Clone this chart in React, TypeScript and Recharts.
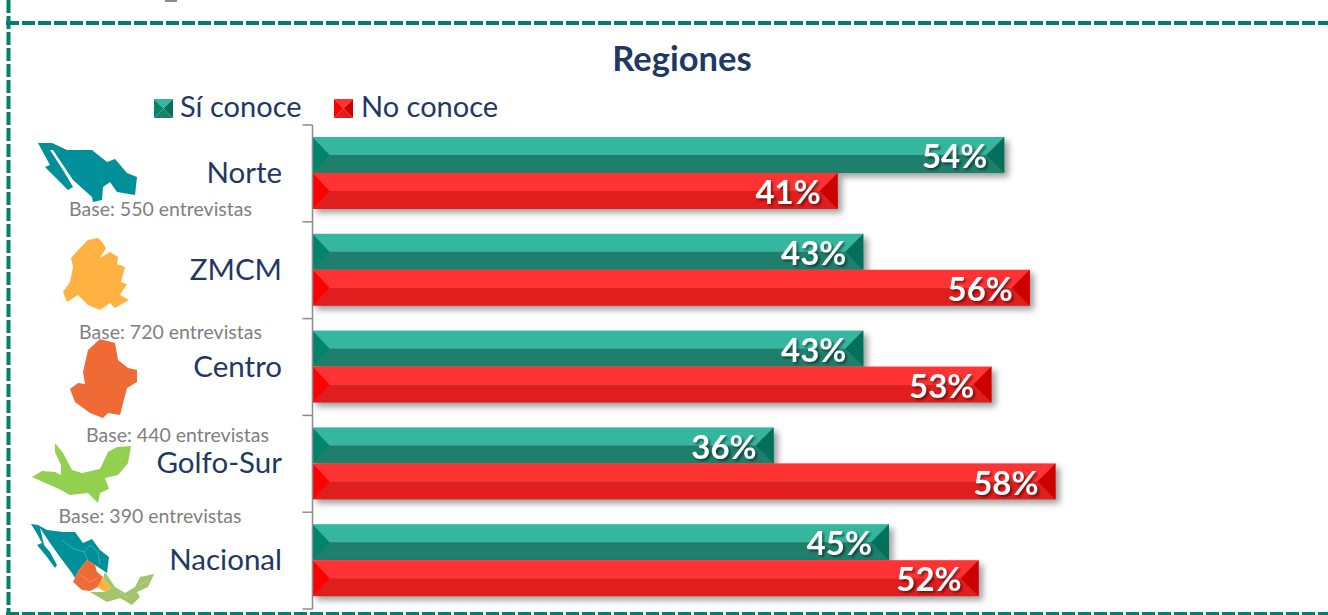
import React from "react";
import { Bar, BarChart, LabelList, Legend, XAxis, YAxis } from "recharts";

const regions = ["Norte", "ZMCM", "Centro", "Golfo-Sur", "Nacional"];
const siConoce = [54, 43, 43, 36, 45];
const noConoce = [41, 56, 53, 58, 52];
const bases = ["Base: 550 entrevistas", "Base: 720 entrevistas", "Base: 440 entrevistas", "Base: 390 entrevistas"];

const chartData = regions.map((region, i) => ({ region, si: siConoce[i], no: noConoce[i] }));

const FONT = "Lato, 'Open Sans', sans-serif";
const NAVY = "#1F3864";
const BAND = 96.8;

const teal = { light: "#35B79F", dark: "#1F7F6D", left: "#00856C", right: "#04705C" };
const red = { light: "#FF3333", dark: "#E01E1E", left: "#FF0000", right: "#CC0000" };

const BevelBar = ({ x, y, width, height, colors }: any) => {
  const mid = y + height / 2;
  const right = x + width;
  return (
    <g style={{ filter: "drop-shadow(4px 4px 3px rgba(0,0,0,0.38))" }}>
      <rect x={x} y={y} width={width} height={height / 2} fill={colors.light} />
      <rect x={x} y={mid} width={width} height={height / 2} fill={colors.dark} />
      <polygon points={`${x},${y} ${x + 17},${mid} ${x},${y + height}`} fill={colors.left} />
      <polygon points={`${right},${y} ${right - 18},${mid} ${right},${y + height}`} fill={colors.right} />
    </g>
  );
};

const RegionTick = ({ x, y, payload, index }: any) => (
  <g>
    <line x1={x - 2} x2={x + 8} y1={y - BAND / 2} y2={y - BAND / 2} stroke="#8C8C8C" strokeWidth={1.5} />
    {index === regions.length - 1 && (
      <line x1={x - 2} x2={x + 8} y1={y + BAND / 2} y2={y + BAND / 2} stroke="#8C8C8C" strokeWidth={1.5} />
    )}
    <text x={x - 22.5} y={y} dy={9.5} textAnchor="end" fontFamily={FONT} fontSize={29.5} fill={NAVY}>
      {payload.value}
    </text>
  </g>
);

const LegendSwatch = ({ colors }: any) => (
  <svg width={19} height={19} style={{ display: "block" }}>
    <polygon points="0,0 19,0 9.5,9.5" fill={colors.light} />
    <polygon points="0,19 19,19 9.5,9.5" fill={colors.dark} />
    <polygon points="0,0 9.5,9.5 0,19" fill={colors.left} />
    <polygon points="19,0 9.5,9.5 19,19" fill={colors.right} />
  </svg>
);

const LegendRow = () => (
  <div style={{ position: "relative", height: 36, fontFamily: FONT, fontSize: 29, color: NAVY, lineHeight: "36px" }}>
    <div style={{ position: "absolute", left: 154, top: 11 }}><LegendSwatch colors={teal} /></div>
    <span style={{ position: "absolute", left: 180, top: 0 }}>Sí conoce</span>
    <div style={{ position: "absolute", left: 334, top: 11 }}><LegendSwatch colors={red} /></div>
    <span style={{ position: "absolute", left: 361, top: 0 }}>No conoce</span>
  </div>
);

// region silhouettes, just decoration next to the axis
const MAPS = [
  { fill: "#00909A", points: "38,143 50,165 45,167 58,180 68,190 73,187 63,170 50,150 53,150 73,180 92,197 93,202 102,200 103,187 110,182 117,192 135,195 137,177 127,173 115,159 107,162 92,150 67,150 52,143" },
  { fill: "#FFB142", points: "98,238 102,242 106,248 100,258 110,252 118,257 117,264 125,267 121,282 127,284 120,295 129,300 115,308 110,303 100,310 88,305 78,295 67,302 63,292 70,282 73,267 71,258 80,248 88,240" },
  { fill: "#F06A35", points: "100,339 115,343 118,360 128,368 137,370 137,382 127,388 120,415 108,413 103,418 90,413 75,402 70,389 78,383 85,384 83,372 88,350" },
  { fill: "#92D050", points: "55,443 63,453 72,470 82,473 100,469 108,452 117,447 131,446 128,463 118,475 105,478 109,489 100,493 98,503 88,493 70,495 57,488 43,482 32,477 42,471 55,472 61,475 61,465 55,452" },
  { fill: "#00909A", points: "31,524 38,525 47,530 63,532 75,532 83,543 92,539 100,550 109,557 107,573 95,565 87,560 79,570 75,578 72,573 60,557 50,543 40,528 44,545 50,552 57,565 55,568 47,557 37,545 42,543 36,532" },
  { fill: "#A2C46A", points: "105,572 115,587 125,593 135,587 140,577 154,574 148,587 137,592 140,597 132,605 120,598 107,602 90,592 105,592 111,588 103,578" },
  { fill: "#F06A35", points: "87,560 95,565 97,572 103,577 98,587 90,591 82,590 73,582 79,570" },
  { fill: "#FFB142", points: "103,578 111,588 105,592 97,587" },
];
const STATE_LINES = ["62,540 72,548 84,552", "84,552 90,545 98,552", "84,552 88,560", "98,552 100,565", "80,575 90,582 98,578", "120,592 128,598", "140,585 148,580"];
const BASE_X = [160.5, 170.5, 177.5, 150];
const BASE_Y = [216, 339, 442, 523];

const labelStyle = { fill: "#fff", fontFamily: FONT, fontWeight: 700, fontSize: 33, filter: "drop-shadow(2px 2px 1px rgba(0,0,0,0.45))" };

export default function App() {
  return (
    <div style={{ position: "absolute", left: 0, top: 0, width: 1328, height: 615, background: "#fff", overflow: "hidden" }}>
      <svg width={1328} height={615} style={{ position: "absolute", left: 0, top: 0 }}>
        <line x1={8.5} y1={0} x2={8.5} y2={615} stroke="#00806A" strokeWidth={4} strokeDasharray="13 3" />
        <line x1={6} y1={23} x2={1328} y2={23} stroke="#00806A" strokeWidth={4} strokeDasharray="13 3" />
        <line x1={6} y1={614} x2={1328} y2={614} stroke="#00806A" strokeWidth={4} strokeDasharray="13 3" />
        <line x1={165} y1={0.5} x2={177} y2={0.5} stroke="#8C8C8C" strokeWidth={3} />
        <text x={682} y={71} textAnchor="middle" fontFamily={FONT} fontWeight={700} fontSize={34.5} fill={NAVY}>Regiones</text>
        {MAPS.map((m, i) => <polygon key={i} points={m.points} fill={m.fill} />)}
        {STATE_LINES.map((p) => <polyline key={p} points={p} fill="none" stroke="#fff" strokeOpacity={0.35} strokeWidth={0.7} />)}
        {bases.map((b, i) => (
          <text key={b} x={BASE_X[i]} y={BASE_Y[i]} textAnchor="middle" fontFamily={FONT} fontSize={19.5} fill="#7F7F7F">{b}</text>
        ))}
      </svg>
      <div style={{ position: "absolute", left: 0, top: 0 }}>
        <BarChart
          width={1328}
          height={615}
          data={chartData}
          layout="vertical"
          margin={{ top: 125, right: 3.5, bottom: 6, left: -0.5 }}
          barSize={36}
          barGap={0}
        >
          <XAxis type="number" hide domain={[0, 79]} />
          <YAxis
            type="category"
            dataKey="region"
            width={313}
            axisLine={{ stroke: "#8C8C8C", strokeWidth: 1.5 }}
            tickLine={false}
            tick={<RegionTick />}
            interval={0}
          />
          <Legend
            layout="horizontal"
            verticalAlign="middle"
            align="center"
            content={<LegendRow />}
            wrapperStyle={{ position: "absolute", left: 0, top: 88, width: 600 }}
          />
          <Bar dataKey="si" name="Sí conoce" fill={teal.dark} isAnimationActive={false} shape={<BevelBar colors={teal} />}>
            <LabelList dataKey="si" position="insideRight" offset={17} dy={1.5} formatter={(v: any) => `${v}%`} style={labelStyle} />
          </Bar>
          <Bar dataKey="no" name="No conoce" fill={red.dark} isAnimationActive={false} shape={<BevelBar colors={red} />}>
            <LabelList dataKey="no" position="insideRight" offset={17} dy={1.5} formatter={(v: any) => `${v}%`} style={labelStyle} />
          </Bar>
        </BarChart>
      </div>
    </div>
  );
}
